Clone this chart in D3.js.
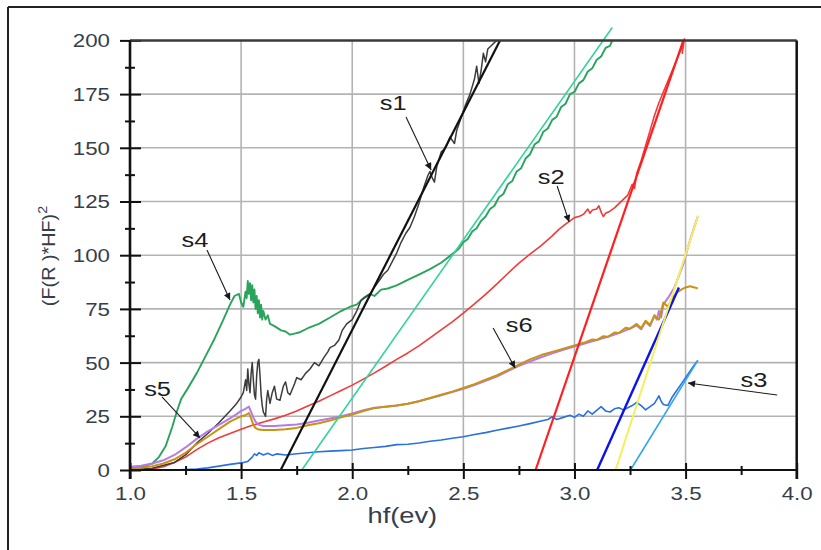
<!DOCTYPE html>
<html>
<head>
<meta charset="utf-8">
<script src="https://cdn.jsdelivr.net/npm/d3@7"></script>
<style>
  html, body { margin: 0; padding: 0; background: #fff; }
  svg { display: block; }
</style>
</head>
<body>
<svg id="chart" width="821" height="550"></svg>
<script>
// ---- Axis ticks ----
const xTicks = [1.0, 1.5, 2.0, 2.5, 3.0, 3.5, 4.0];
const xTickLabels = ["1.0", "1.5", "2.0", "2.5", "3.0", "3.5", "4.0"];
const xMinorTicks = [1.25, 1.75, 2.25, 2.75, 3.25, 3.75];
const yTicks = [0, 25, 50, 75, 100, 125, 150, 175, 200];
const yTickLabels = ["0", "25", "50", "75", "100", "125", "150", "175", "200"];
const yMinorTicks = [12.5, 37.5, 62.5, 87.5, 112.5, 137.5, 162.5, 187.5];

// ---- Measured curves: photon energy hf (eV) vs (F(R)*hf)^2 ----
const s1X = [1.00,1.10,1.20,1.25,1.30,1.35,1.40,1.45,1.48,1.50,1.51,1.52,1.525,1.53,1.535,1.54,1.545,1.55,1.555,1.56,1.565,1.57,1.575,1.58,1.585,1.59,1.595,1.60,1.61,1.615,1.62,1.63,1.64,1.65,1.66,1.675,1.69,1.70,1.71,1.72,1.74,1.75,1.77,1.79,1.81,1.83,1.85,1.87,1.89,1.90,1.92,1.94,1.955,1.975,2.00,2.02,2.04,2.06,2.08,2.10,2.12,2.14,2.16,2.18,2.20,2.22,2.24,2.26,2.28,2.30,2.32,2.34,2.35,2.36,2.37,2.38,2.40,2.42,2.44,2.46,2.47,2.49,2.51,2.53,2.55,2.56,2.57,2.58,2.59,2.60,2.61,2.63,2.65];
const s1Y = [0,0.8,3.5,7,12.5,17,22,27.5,31,34,36,42,37,47,40,36,45,50,42,35,33,44,50,51.5,44,35,30,27,25,33,37,31,36,39,33,32.5,39,41,36,35,40,43,42,45,47,50,48.5,52,55,57,58,60.5,65,68,70,74,79,80.5,82,85,88,91,93,97,101,106,110,113,118,124,131,137,139,136,134,141,148,150,155,152,158,164,170,175,182,188,180,186,194,190,196,198,200];

const s2X = [1.00,1.10,1.15,1.20,1.25,1.30,1.35,1.40,1.45,1.50,1.55,1.60,1.65,1.70,1.75,1.80,1.85,1.90,1.95,2.00,2.05,2.10,2.15,2.20,2.25,2.30,2.35,2.40,2.45,2.50,2.55,2.60,2.65,2.70,2.75,2.80,2.85,2.90,2.93,2.96,2.98,3.00,3.02,3.04,3.06,3.07,3.08,3.10,3.11,3.12,3.13,3.14,3.16,3.18,3.20,3.22,3.24,3.26,3.27,3.28,3.30,3.32,3.34,3.36,3.38,3.40,3.42,3.44,3.46,3.48,3.49,3.485,3.495];
const s2Y = [0,0.5,1.5,3.5,6,9.5,12.5,15,17,19,20.8,22.3,23.8,25.5,27.5,29.8,32,34.5,37,39.5,42.3,45.2,48.3,51.5,54.5,57.8,61.5,65.2,69,73,77.3,81.8,86.5,91.5,96.3,100.5,104.5,109,112,114.5,116,117.5,118,119,121.5,119.5,121,121.5,123,120,118,119.5,120.5,122,124,126,128,133,131,138,144,151,158,165,171,176,181,186,191,196,199,194,201];

const s3X = [1.00,1.20,1.30,1.35,1.40,1.45,1.50,1.53,1.55,1.56,1.57,1.58,1.60,1.62,1.64,1.66,1.70,1.75,1.80,1.85,1.90,1.95,2.00,2.05,2.10,2.15,2.20,2.25,2.30,2.35,2.40,2.45,2.50,2.55,2.60,2.65,2.70,2.75,2.80,2.85,2.88,2.90,2.92,2.95,2.98,3.00,3.02,3.04,3.06,3.08,3.10,3.12,3.14,3.16,3.18,3.20,3.22,3.24,3.26,3.28,3.30,3.32,3.34,3.36,3.38,3.39,3.40,3.42,3.44,3.46,3.48,3.50,3.52,3.54,3.555];
const s3Y = [0,0,0.5,1,1.8,2.6,3.3,4,6,7.5,6.8,8,7,7.8,6.8,7.5,7,7.6,8,8.5,8.8,9,9.3,10,10.5,11,11.8,12,12.6,13.4,14,14.8,15.5,16.5,17.4,18.5,19.5,20.5,21.6,22.8,23.5,24.8,23.5,24.5,25.5,24.5,26,25,27.5,26,27.8,29.5,27.5,27,28.5,29,28,29,30,31.5,30,28,29.5,31,34.5,32,30.5,30,34,37,40,43,46,49,51];

const s4X = [1.00,1.05,1.10,1.13,1.16,1.19,1.21,1.23,1.26,1.30,1.34,1.38,1.42,1.45,1.47,1.49,1.50,1.51,1.52,1.525,1.53,1.535,1.54,1.545,1.55,1.555,1.56,1.565,1.57,1.575,1.58,1.585,1.59,1.595,1.60,1.61,1.62,1.63,1.65,1.68,1.70,1.72,1.74,1.76,1.80,1.85,1.90,1.95,1.99,2.02,2.05,2.08,2.10,2.13,2.16,2.20,2.25,2.30,2.35,2.40,2.45,2.48,2.50,2.52,2.54,2.56,2.58,2.60,2.62,2.64,2.66,2.68,2.70,2.72,2.74,2.76,2.78,2.80,2.82,2.84,2.86,2.88,2.90,2.92,2.94,2.96,2.98,3.00,3.02,3.04,3.06,3.08,3.10,3.12,3.14,3.16,3.17];
const s4Y = [1,1.5,3,6,11,20,27,33,38,45,53,61,70,77,81,82,78,76,83,80,88,82,87,79,86,78,84,75,81,73,79,71,77,70,74,70,72,68,67,65,64.5,63,63.5,64,66,68,71,74,76,77,80,82,81,84,84.5,86,88.5,91,93.5,96.5,100.5,103,106,107.5,111,112.5,116,118,121.5,123,127,128.5,133,134.5,139,140.5,145,147,151.5,153,157.5,159,163,164.5,169,170.5,175,176,180,181.5,185.5,187,191,192.5,196.5,197.5,200];

const s5X = [1.00,1.05,1.10,1.15,1.20,1.25,1.30,1.35,1.40,1.45,1.48,1.50,1.52,1.535,1.545,1.555,1.565,1.58,1.60,1.65,1.70,1.75,1.80,1.85,1.90,1.95,2.00,2.05,2.10,2.15,2.20,2.25,2.30,2.35,2.40,2.45,2.50,2.55,2.60,2.65,2.70,2.75,2.80,2.85,2.90,2.95,3.00,3.05,3.10,3.15,3.20,3.25,3.28,3.30,3.32,3.34,3.36,3.37,3.38,3.39,3.40,3.42,3.45,3.49,3.52,3.555];
const s5Y = [1.5,2,3,4.5,7,10.5,14.5,18,21,24,26,27.5,28.5,29.5,27,24.5,22.5,21,20.5,20.5,20.8,21.2,22,23,24,25,26.3,27.8,29,29.5,30,30.8,32,33.4,34.8,36.3,37.8,39.5,41.5,43.5,46,48.5,50.5,52.5,54.3,56,57.5,59,60.5,62,63.8,65.8,67.3,65.5,69,67,72,70,74,71,77,80,85,96,107,118];

const s6X = [1.00,1.05,1.10,1.15,1.20,1.25,1.30,1.35,1.40,1.45,1.48,1.50,1.52,1.535,1.545,1.555,1.565,1.58,1.60,1.65,1.70,1.75,1.80,1.85,1.90,1.95,2.00,2.05,2.10,2.15,2.20,2.25,2.30,2.35,2.40,2.45,2.50,2.55,2.60,2.65,2.70,2.75,2.80,2.85,2.90,2.95,3.00,3.05,3.08,3.10,3.13,3.15,3.18,3.20,3.23,3.25,3.28,3.30,3.32,3.34,3.36,3.38,3.40,3.42,3.44,3.46,3.48,3.50,3.52,3.54,3.555];
const s6Y = [0.8,1,1.8,3,5,8,12,15.5,19,22.5,24,25,25.5,26.5,24,21,19.5,18.8,18.6,18.6,19,19.6,20.8,21.8,23,24.5,25.8,27.5,28.8,29.5,30,30.8,32,33.5,35,36.5,38.2,40,42,44,46.5,49,51.5,53.5,55,56.5,58,59.5,60.8,60.5,62.3,62,64,63.8,66.2,65.8,68,66,69.5,67.5,72,70,78,76,80,82.5,84,85,85.5,85,84.5];

// ---- Straight-line fits (extrapolated to the energy axis) ----
const fitX0 = [1.678, 1.773, 2.825, 3.102, 3.185, 3.252];
const fitY0 = [0, 0, 0, 0, 0, 0];
const fitX1 = [2.665, 3.17, 3.49, 3.47, 3.557, 3.555];
const fitY1 = [200, 206, 200, 85, 118.5, 51];
const fitColors = ["#111111", "#33d39b", "#ff1f1f", "#0c12ee", "#f4ef5c", "#2fa6f2"];
const fitWidths = [2.2, 1.6, 2.2, 2.4, 2, 1.6];

// ---- Sample labels with pointer arrows ----
const labelNames = ["s1", "s2", "s3", "s4", "s5", "s6"];
const labelX = [2.184, 2.895, 3.808, 1.2925, 1.124, 2.751];
const labelY = [170.9, 136.4, 42.1, 107, 37.5, 67.7];
const arrowFromX = [2.242, 2.922, 3.912, 1.3465, 1.144, 2.634];
const arrowFromY = [164.3, 132.2, 34.9, 102.4, 34, 66.1];
const arrowToX = [2.355, 2.976, 3.511, 1.45, 1.315, 2.733];
const arrowToY = [139.7, 115.5, 40.5, 79.1, 14.9, 47.5];

// ---- Layout ----
const SX = 1.24;               // horizontal stretch of the lettering
const FONT = "'Liberation Sans', Arial, Helvetica, sans-serif";
const TEXT = "#363e4b";

const svg = d3.select("#chart");
const x = d3.scaleLinear().domain([1, 4]).range([130, 796.7]);
const y = d3.scaleLinear().domain([0, 200]).range([470, 40.4]);
const [x0, x1] = x.range();
const [yb, yt] = y.range();

// outer frame
svg.append("line").attr("x1", 8).attr("x2", 821).attr("y1", 7).attr("y2", 7)
  .attr("stroke", "#222").attr("stroke-width", 2);
svg.append("line").attr("x1", 8).attr("x2", 8).attr("y1", 7).attr("y2", 550)
  .attr("stroke", "#222").attr("stroke-width", 2);

// grid
const grid = svg.append("g").attr("stroke", "#b3b3b3").attr("stroke-width", 1.6);
grid.selectAll(".gx").data(xTicks.filter(v => v > 1 && v < 4)).join("line")
  .attr("x1", d => x(d)).attr("x2", d => x(d)).attr("y1", yt).attr("y2", yb);
grid.selectAll(".gy").data(yTicks.filter(v => v > 0 && v < 200)).join("line")
  .attr("x1", x0).attr("x2", x1).attr("y1", d => y(d)).attr("y2", d => y(d));

// curves
const line = d3.line().x(d => x(d[0])).y(d => y(d[1]));
const zip = (xs, ys) => xs.map((v, i) => [v, ys[i]]);
const curves = [
  { xs: s3X, ys: s3Y, color: "#2a70e0", w: 1.6 },
  { xs: s2X, ys: s2Y, color: "#f23a3a", w: 1.6 },
  { xs: s4X, ys: s4Y, color: "#2aa35c", w: 1.9 },
  { xs: s1X, ys: s1Y, color: "#3c3c3c", w: 1.5 },
  { xs: s5X, ys: s5Y, color: "#b57be8", w: 2.0 },
  { xs: s6X, ys: s6Y, color: "#c9930f", w: 2.0 }
];
svg.append("g").selectAll("path").data(curves).join("path")
  .attr("d", c => line(zip(c.xs, c.ys)))
  .attr("fill", "none").attr("stroke", c => c.color).attr("stroke-width", c => c.w)
  .attr("stroke-linejoin", "round");

// fitted lines
svg.append("g").selectAll("line").data(fitX0).join("line")
  .attr("x1", (d, i) => x(fitX0[i])).attr("y1", (d, i) => y(fitY0[i]))
  .attr("x2", (d, i) => x(fitX1[i])).attr("y2", (d, i) => y(fitY1[i]))
  .attr("stroke", (d, i) => fitColors[i]).attr("stroke-width", (d, i) => fitWidths[i]);

// axes
const yAxis = svg.append("g").attr("transform", `translate(${x0},0)`)
  .call(d3.axisLeft(y).tickValues(yTicks).tickFormat((d, i) => yTickLabels[i]).tickSize(10).tickPadding(10));
yAxis.select(".domain").remove();
yAxis.selectAll(".tick line").attr("x1", 11).attr("x2", -10).attr("stroke", "#111").attr("stroke-width", 2);
yAxis.selectAll(".tick text")
  .attr("x", -20 / SX).attr("dy", "0.36em").attr("transform", `scale(${SX},1)`)
  .attr("fill", TEXT).style("font-family", FONT).style("font-size", "18px");

const yMinor = svg.append("g").attr("transform", `translate(${x0},0)`)
  .call(d3.axisLeft(y).tickValues(yMinorTicks).tickFormat("").tickSize(5));
yMinor.select(".domain").remove();
yMinor.selectAll(".tick line").attr("x1", 5).attr("x2", -5).attr("stroke", "#111").attr("stroke-width", 2);

const xAxis = svg.append("g").attr("transform", `translate(0,${yb})`)
  .call(d3.axisBottom(x).tickValues(xTicks).tickFormat((d, i) => xTickLabels[i]).tickSize(9).tickPadding(8));
xAxis.select(".domain").remove();
xAxis.selectAll(".tick line").attr("y1", -7).attr("y2", 9).attr("stroke", "#111").attr("stroke-width", 2);
xAxis.selectAll(".tick text")
  .attr("y", 17).attr("transform", `scale(${SX},1)`)
  .attr("fill", TEXT).style("font-family", FONT).style("font-size", "18px");

const xMinor = svg.append("g").attr("transform", `translate(0,${yb})`)
  .call(d3.axisBottom(x).tickValues(xMinorTicks).tickFormat("").tickSize(5));
xMinor.select(".domain").remove();
xMinor.selectAll(".tick line").attr("y1", -4).attr("y2", 5).attr("stroke", "#111").attr("stroke-width", 2);

// plot box
svg.append("line").attr("x1", x0).attr("x2", x1).attr("y1", yt).attr("y2", yt)
  .attr("stroke", "#3a3a3a").attr("stroke-width", 2.5);
svg.append("line").attr("x1", x1).attr("x2", x1).attr("y1", yt).attr("y2", yb + 9)
  .attr("stroke", "#111").attr("stroke-width", 2.5);
svg.append("line").attr("x1", x0).attr("x2", x1).attr("y1", yb).attr("y2", yb)
  .attr("stroke", "#111").attr("stroke-width", 2.2);
svg.append("line").attr("x1", x0).attr("x2", x0).attr("y1", yt).attr("y2", yb + 9)
  .attr("stroke", "#111").attr("stroke-width", 2.6);

// axis titles
svg.append("text")
  .attr("transform", `translate(${(x0 + x1) / 2 - 61},523) scale(${SX},1)`)
  .attr("text-anchor", "middle").attr("fill", TEXT)
  .style("font-family", FONT).style("font-size", "22px")
  .text("hf(ev)");

const yTitle = svg.append("text")
  .attr("transform", `translate(55,256) rotate(-90) scale(1.1,1)`)
  .attr("text-anchor", "middle").attr("fill", TEXT)
  .style("font-family", FONT).style("font-size", "18px");
yTitle.append("tspan").text("(F(R )*HF)");
yTitle.append("tspan").attr("dy", -8).style("font-size", "13px").text("2");

// labels and pointers
const defs = svg.append("defs");
defs.append("marker").attr("id", "arrow").attr("viewBox", "0 0 10 10")
  .attr("refX", 10).attr("refY", 5).attr("markerWidth", 9).attr("markerHeight", 7)
  .attr("markerUnits", "userSpaceOnUse").attr("orient", "auto")
  .append("path").attr("d", "M0,0 L10,5 L0,10 Z").attr("fill", "#1a1a1a");

const notes = svg.append("g");
notes.selectAll("line").data(labelNames).join("line")
  .attr("x1", (d, i) => x(arrowFromX[i])).attr("y1", (d, i) => y(arrowFromY[i]))
  .attr("x2", (d, i) => x(arrowToX[i])).attr("y2", (d, i) => y(arrowToY[i]))
  .attr("stroke", "#1a1a1a").attr("stroke-width", 1.1).attr("marker-end", "url(#arrow)");
notes.selectAll("text").data(labelNames).join("text")
  .attr("transform", (d, i) => `translate(${x(labelX[i])},${y(labelY[i]) + 7}) scale(1.27,1)`)
  .attr("text-anchor", "middle").attr("fill", "#1c1c1c")
  .style("font-family", FONT).style("font-size", "20px")
  .text(d => d);
</script>
</body>
</html>
